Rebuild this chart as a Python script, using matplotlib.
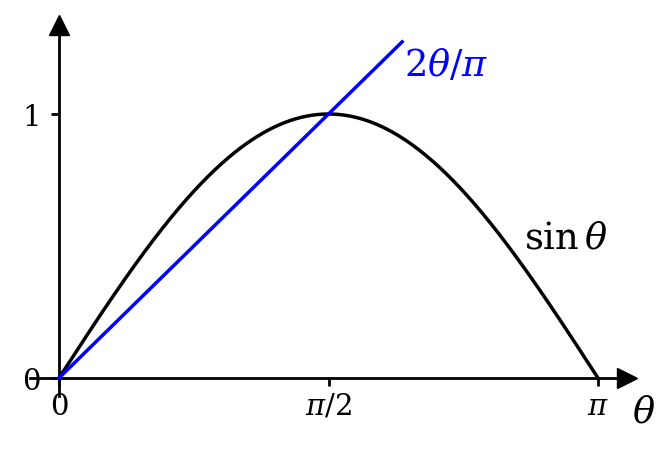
import numpy as np
import matplotlib
matplotlib.use("Agg")
import matplotlib.pyplot as plt

plt.rcParams['mathtext.fontset'] = 'dejavuserif'
plt.rcParams['font.family'] = ['DejaVu Serif']

theta_max = np.pi
line_end = 2.0
xticks = [0, np.pi / 2, np.pi]
xticklabels = ['0', r'$\pi/2$', r'$\pi$']
yticks = [0, 1]
yticklabels = ['0', '1']

fig = plt.figure(figsize=(6.63, 4.52), dpi=100)
W, H = 663, 452
sx = 539 / np.pi   # px per unit x
sy = 264           # px per unit y
ox, oy = 59, 379   # pixel of data origin
xl, xr = -0.17, 3.311
yb, yt = -0.068, 1.337
left = ox + xl * sx
right = ox + xr * sx
bottom = oy - yb * sy
top = oy - yt * sy
ax = fig.add_axes([left / W, 1 - bottom / H, (right - left) / W, (bottom - top) / H])

th = np.linspace(0, theta_max, 400)
ax.plot(th, np.sin(th), color='black', lw=2.5, clip_on=False, zorder=3)
tl = np.linspace(0, line_end, 2)
ax.plot(tl, 2 * tl / np.pi, color='#0000ff', lw=2.5, clip_on=False, zorder=3)

ax.set_xlim(xl, xr)
ax.set_ylim(yb, yt)

for s in ['top', 'right']:
    ax.spines[s].set_visible(False)
for s in ['left', 'bottom']:
    ax.spines[s].set_linewidth(2.0)
    ax.spines[s].set_position(('data', 0))

ax.plot(1, 0, '>k', ms=14, transform=ax.get_yaxis_transform(), clip_on=False)
ax.plot(0, 1, '^k', ms=14, transform=ax.get_xaxis_transform(), clip_on=False)

ax.set_xticks(xticks)
ax.set_xticklabels(xticklabels)
ax.set_yticks(yticks)
ax.set_yticklabels(yticklabels)
ax.tick_params(direction='out', length=6, width=2.0, labelsize=21)
ax.tick_params(axis='x', pad=4)
ax.tick_params(axis='y', pad=7)

ax.text(2.012, 1.148, r'$2\theta/\pi$', color='#0000ff', fontsize=26.5)
ax.text(2.71, 0.496, r'$\sin\theta$', color='black', fontsize=26.5)
ax.text(3.41, -0.127, r'$\theta$', fontsize=26.5, ha='center', va='center', clip_on=False)

fig.savefig('out.png', dpi=100)
